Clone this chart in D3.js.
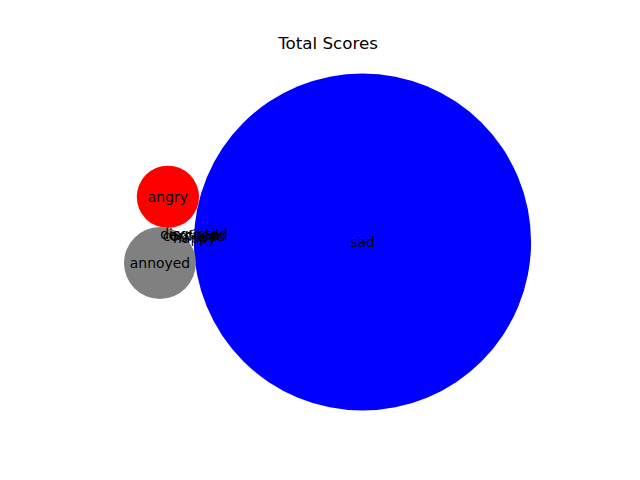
<!DOCTYPE html>
<html><head><meta charset="utf-8">
<script src="https://cdn.jsdelivr.net/npm/d3@7"></script>
<style>html,body{margin:0;padding:0;background:#fff;}</style>
</head><body>
<svg id="chart" width="640" height="480"></svg>
<script>
// Data
const labels = ["sad", "angry", "annoyed", "disgusted", "happy", "excited", "confused"];
const scores = [88, 3, 4, 0, 0, 0, 0];
const colors = ["blue", "red", "grey", "green", "orange", "purple", "cyan"];
// bubble centres found by the packing layout (data units, y up)
const bubbleX = [0, -6.11, -6.36, -5.29, -5.27, -5.30, -5.28];
const bubbleY = [0, 1.417, -0.661, 0.24, 0.14, 0.22, 0.20];
const title = "Total Scores";

const svg = d3.select("#chart");
const unit = 31.85; // pixels per data unit (equal aspect)
const cx = 362.5, cy = 242;
const x = d3.scaleLinear().domain([-8, 6]).range([cx - 8 * unit, cx + 6 * unit]);
const y = d3.scaleLinear().domain([-6, 6]).range([cy + 6 * unit, cy - 6 * unit]);
const rData = d3.scaleSqrt().domain([0, 1]).range([0, Math.sqrt(1 / Math.PI)]);
const rPx = d => x(rData(d)) - x(0);

const data = labels.map((l, i) => ({label: l, score: scores[i], color: colors[i], x: bubbleX[i], y: bubbleY[i]}));

svg.append("g").selectAll("circle").data(data.filter(d => d.score > 0)).join("circle")
  .attr("cx", d => x(d.x)).attr("cy", d => y(d.y)).attr("r", d => rPx(d.score))
  .attr("fill", d => d.color);

svg.append("g").selectAll("text").data(data).join("text")
  .attr("x", d => x(d.x)).attr("y", d => y(d.y))
  .attr("text-anchor", "middle").attr("dominant-baseline", "central")
  .attr("font-family", "DejaVu Sans").attr("font-size", "13.9px").attr("fill", "#000")
  .text(d => d.label);

svg.append("text").attr("x", 328).attr("y", 49).attr("text-anchor", "middle")
  .attr("font-family", "DejaVu Sans").attr("font-size", "16.7px").attr("fill", "#000")
  .text(title);
</script>
</body></html>
